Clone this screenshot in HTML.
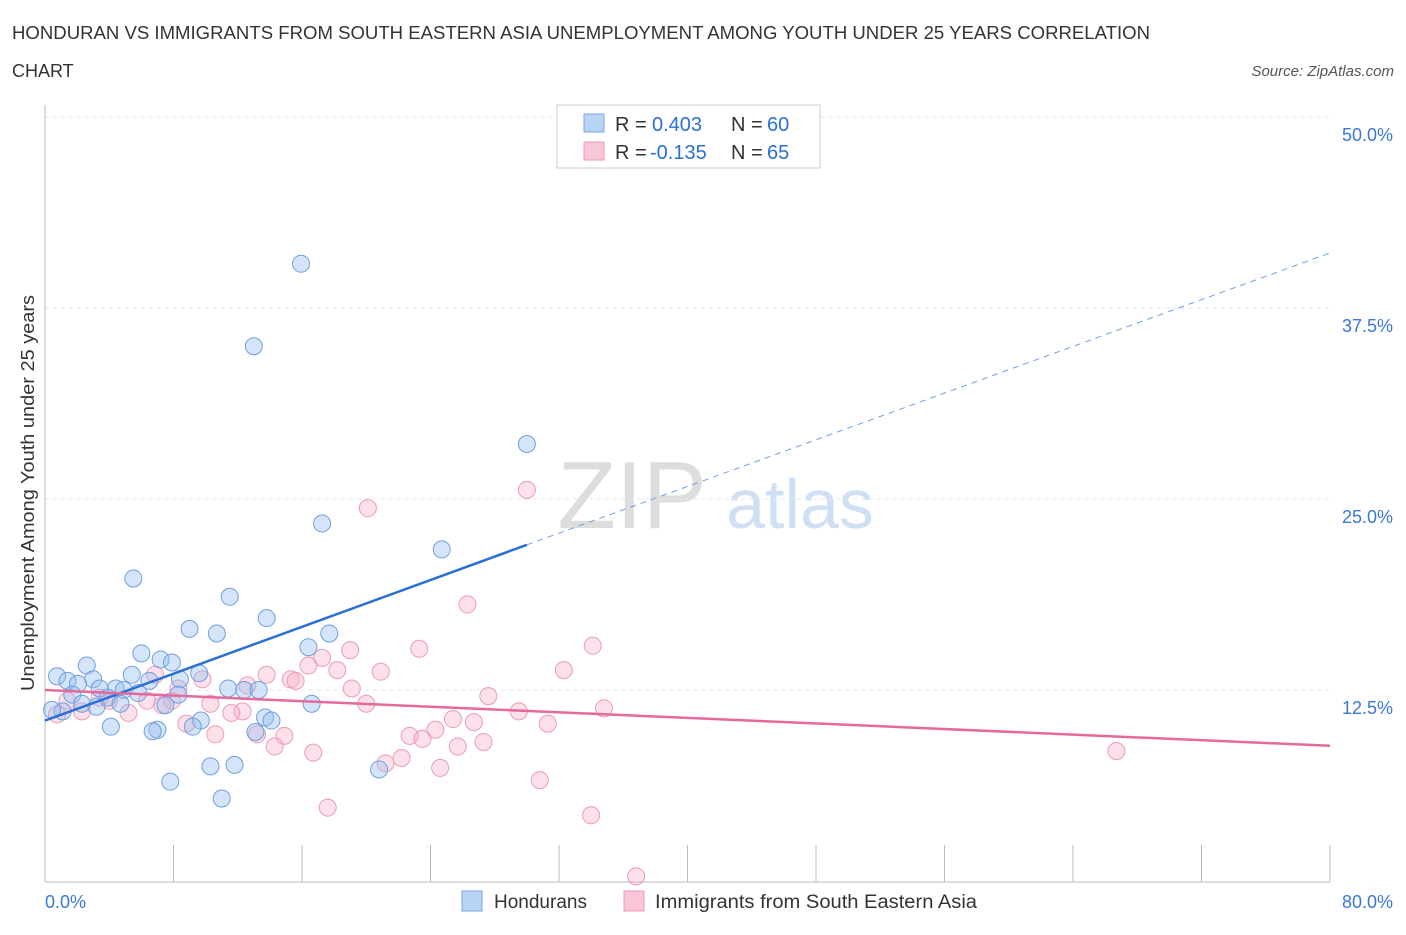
<!DOCTYPE html>
<html><head><meta charset="utf-8"><style>
body{margin:0;background:#fff;font-family:"Liberation Sans",sans-serif;}
svg text{font-family:"Liberation Sans",sans-serif;}
</style></head><body>
<svg id="chart" width="1406" height="930">
<text x="12" y="39" font-size="18" fill="#333" textLength="1138" lengthAdjust="spacingAndGlyphs">HONDURAN VS IMMIGRANTS FROM SOUTH EASTERN ASIA UNEMPLOYMENT AMONG YOUTH UNDER 25 YEARS CORRELATION</text>
<text x="12" y="77" font-size="18" fill="#333">CHART</text>
<text x="1394" y="76" font-size="15" fill="#555" font-style="italic" text-anchor="end">Source: ZipAtlas.com</text>
<text x="632" y="528" font-size="96" fill="#ddd" font-family="Liberation Serif" text-anchor="middle">ZIP</text>
<text x="800" y="528" font-size="70" fill="#cfe0f4" text-anchor="middle">atlas</text>
<text transform="translate(34,493) rotate(-90)" font-size="18" fill="#333" text-anchor="middle" textLength="396" lengthAdjust="spacingAndGlyphs">Unemployment Among Youth under 25 years</text>
<g id="grid"></g><g id="pts"></g><g id="lines"></g>
<g>
<rect x="557" y="105" width="263" height="63" fill="#fff" stroke="#ccc"/>
<rect x="584" y="114" width="20" height="18" fill="#b9d3f5" stroke="#7aa7e6"/>
<rect x="584" y="142" width="20" height="18" fill="#f8c6d6" stroke="#ee9ab5"/>
<text x="615" y="131" font-size="20" fill="#333">R =</text>
<text x="652" y="131" font-size="20" fill="#2a6fd6">0.403</text>
<text x="731" y="131" font-size="20" fill="#333">N =</text>
<text x="767" y="131" font-size="20" fill="#2a6fd6">60</text>
<text x="615" y="159" font-size="20" fill="#333">R =</text>
<text x="650" y="159" font-size="20" fill="#2a6fd6">-0.135</text>
<text x="731" y="159" font-size="20" fill="#333">N =</text>
<text x="767" y="159" font-size="20" fill="#2a6fd6">65</text>
</g>
<g>
<rect x="462" y="891" width="20" height="20" fill="#b9d3f5" stroke="#7aa7e6"/>
<text x="494" y="908" font-size="19" fill="#333">Hondurans</text>
<rect x="624" y="891" width="20" height="20" fill="#f8c6d6" stroke="#ee9ab5"/>
<text x="655" y="908" font-size="19" fill="#333" textLength="322" lengthAdjust="spacingAndGlyphs">Immigrants from South Eastern Asia</text>
</g>
</svg>
<script>
const yTicks=[12.5,25,37.5,50];
const yTickLabels=["12.5%","25.0%","37.5%","50.0%"];
const xTickVals=[0,8,16,24,32,40,48,56,64,72,80];
const blueX=[15.94,13.0,30.0,17.25,24.7,5.5,11.5,13.8,9.0,10.7,17.7,16.4,6.0,7.2,7.9,2.6,5.4,9.6,0.75,1.4,3.0,2.05,6.5,8.4,4.4,4.9,3.4,11.4,12.4,13.3,1.7,3.9,5.8,8.3,16.6,7.5,1.1,0.44,3.2,2.3,4.7,9.7,9.2,13.7,14.1,4.1,7.0,6.7,13.1,10.3,11.8,7.8,11.0,20.8];
const blueY=[40.4,35.0,28.6,23.4,21.7,19.8,18.6,17.2,16.5,16.2,16.2,15.3,14.9,14.5,14.3,14.1,13.5,13.6,13.4,13.1,13.2,12.9,13.1,13.2,12.6,12.5,12.6,12.6,12.5,12.5,12.2,12.0,12.3,12.2,11.6,11.5,11.1,11.2,11.4,11.6,11.6,10.5,10.1,10.7,10.5,10.1,9.9,9.8,9.75,7.5,7.6,6.5,5.4,7.3];
const pinkX=[30.0,20.1,26.3,34.1,23.3,19.0,17.25,16.4,32.3,20.9,18.2,13.8,9.8,15.3,15.6,6.85,12.6,19.1,27.6,20.0,10.3,34.8,29.5,12.3,11.6,25.4,26.7,31.3,8.8,24.3,10.6,13.2,14.9,22.7,23.5,27.3,25.7,14.3,16.7,66.7,22.2,21.2,24.6,30.8,17.6,34.0,36.8,5.2,4.0,2.3,6.35,7.9,0.75,3.4,7.3,8.3,1.4];
const pinkY=[25.6,24.4,18.1,15.4,15.2,15.1,14.6,14.1,13.8,13.7,13.8,13.5,13.2,13.2,13.1,13.5,12.8,12.6,12.1,11.6,11.6,11.3,11.1,11.1,11.0,10.6,10.4,10.3,10.3,9.9,9.6,9.6,9.5,9.5,9.3,9.1,8.8,8.8,8.4,8.5,8.05,7.7,7.4,6.6,4.8,4.3,0.3,11.0,11.8,11.1,11.8,11.8,10.9,12.0,11.5,12.6,11.8];
const blueLine=[0,10.5,30,22.0,80,41.1];
const pinkLine=[0,12.5,80,8.85];
const sx=v=>45+v*1285/80, sy=v=>881-v*15.28;
const NS="http://www.w3.org/2000/svg";
function mk(tag,attrs,parent){const e=document.createElementNS(NS,tag);for(const k in attrs)e.setAttribute(k,attrs[k]);document.getElementById(parent).appendChild(e);return e;}
yTicks.forEach((t,i)=>{
 const g=mk('line',{x1:45,x2:1330,y1:sy(t),y2:sy(t),stroke:'#e6e6e6','stroke-dasharray':'4,4'},'grid');
 
 
 const tx=mk('text',{x:1393,y:sy(t)+24,'font-size':18,fill:'#3a78d6','text-anchor':'end'},'grid');
 tx.textContent=yTickLabels[i];
 
 
});
const ax=mk('line',{x1:45,x2:1330,y1:882,y2:882,stroke:'#bbb'},'grid');


const ay=mk('line',{x1:45,x2:45,y1:105,y2:882,stroke:'#bbb'},'grid');


xTickVals.forEach(t=>{
 const l=mk('line',{x1:sx(t),x2:sx(t),y1:845,y2:882,stroke:'#bbb'},'grid');
 
 
});
const xl0=mk('text',{x:45,y:908,'font-size':18,fill:'#3a78d6'},'grid');xl0.textContent='0.0%';


const xl1=mk('text',{x:1393,y:908,'font-size':18,fill:'#3a78d6','text-anchor':'end'},'grid');xl1.textContent='80.0%';


pinkX.forEach((x,i)=>{
 const c=mk('circle',{cx:sx(x),cy:sy(pinkY[i]),r:8.5,fill:'rgba(245,170,195,0.35)',stroke:'#ee9ab5','stroke-width':1},'pts');
 
 
});
blueX.forEach((x,i)=>{
 const c=mk('circle',{cx:sx(x),cy:sy(blueY[i]),r:8.5,fill:'rgba(150,190,240,0.4)',stroke:'#6f9fe0','stroke-width':1},'pts');
 
 
});
const b1=mk('line',{x1:sx(blueLine[0]),y1:sy(blueLine[1]),x2:sx(blueLine[2]),y2:sy(blueLine[3]),stroke:'#2a6fd6','stroke-width':2.5},'lines');


const b2=mk('line',{x1:sx(blueLine[2]),y1:sy(blueLine[3]),x2:sx(blueLine[4]),y2:sy(blueLine[5]),stroke:'#6f9fe0','stroke-width':1,'stroke-dasharray':'6,5'},'lines');


const p1=mk('line',{x1:sx(pinkLine[0]),y1:sy(pinkLine[1]),x2:sx(pinkLine[2]),y2:sy(pinkLine[3]),stroke:'#e5699a','stroke-width':2.5},'lines');


</script>
</body></html>
